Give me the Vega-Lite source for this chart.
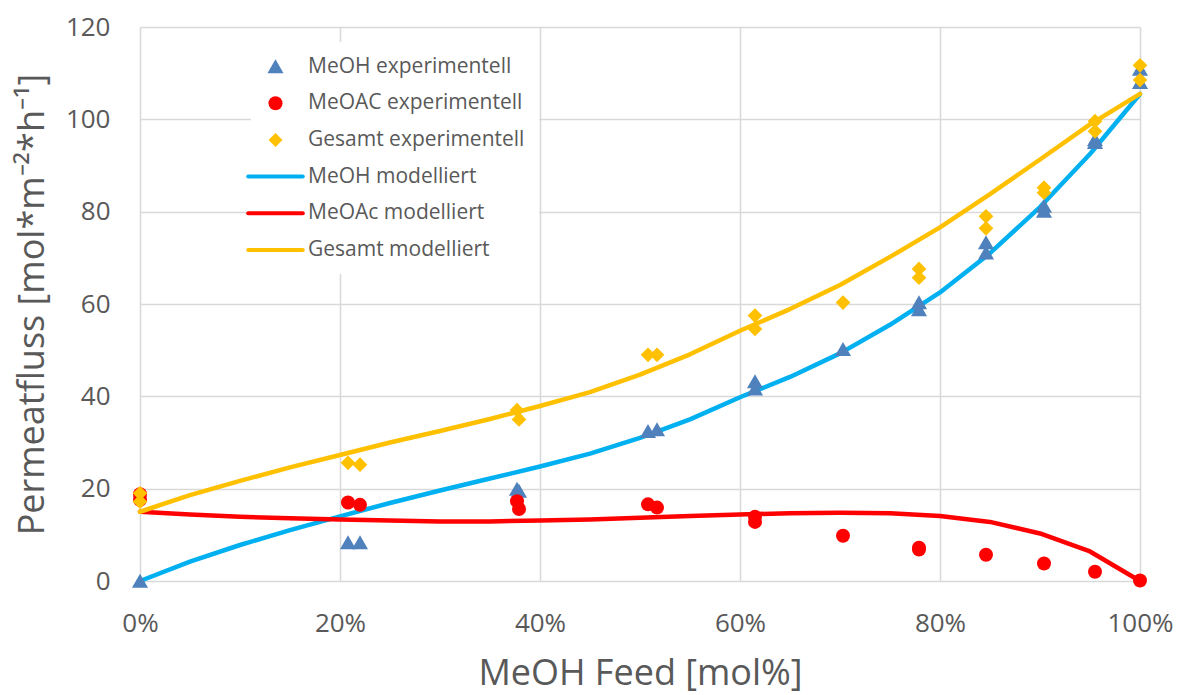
{
  "$schema": "https://vega.github.io/schema/vega-lite/v6.json",
  "width": 1000,
  "height": 554,
  "autosize": "none",
  "padding": {"left": 140, "top": 27, "right": 39, "bottom": 114},
  "background": "white",
  "config": {
    "view": {"stroke": null},
    "font": "Open Sans",
    "axis": {
      "domain": false,
      "ticks": false,
      "grid": true,
      "gridColor": "#d9d9d9",
      "gridWidth": 1.6,
      "labelFont": "Open Sans",
      "labelFontSize": 26,
      "labelColor": "#595959",
      "labelFlush": false,
      "titleFont": "Open Sans",
      "titleFontSize": 36,
      "titleFontWeight": "normal",
      "titleColor": "#595959"
    },
    "legend": {
      "orient": "none",
      "legendX": 111,
      "legendY": 15,
      "fillColor": "white",
      "padding": 14,
      "labelFont": "Open Sans",
      "labelFontSize": 21,
      "labelColor": "#595959",
      "labelLimit": 400,
      "symbolSize": 196,
      "rowPadding": 14.7,
      "labelOffset": 22
    }
  },
  "datasets": {
    "model": [
      {"feed": 0, "flux": 0, "series": "MeOH modelliert"},
      {"feed": 5, "flux": 4.2, "series": "MeOH modelliert"},
      {"feed": 10, "flux": 7.8, "series": "MeOH modelliert"},
      {"feed": 15, "flux": 11.0, "series": "MeOH modelliert"},
      {"feed": 20, "flux": 14.0, "series": "MeOH modelliert"},
      {"feed": 25, "flux": 16.9, "series": "MeOH modelliert"},
      {"feed": 30, "flux": 19.6, "series": "MeOH modelliert"},
      {"feed": 35, "flux": 22.2, "series": "MeOH modelliert"},
      {"feed": 40, "flux": 24.8, "series": "MeOH modelliert"},
      {"feed": 45, "flux": 27.6, "series": "MeOH modelliert"},
      {"feed": 50, "flux": 31.0, "series": "MeOH modelliert"},
      {"feed": 55, "flux": 35.0, "series": "MeOH modelliert"},
      {"feed": 60, "flux": 39.8, "series": "MeOH modelliert"},
      {"feed": 65, "flux": 44.2, "series": "MeOH modelliert"},
      {"feed": 70, "flux": 49.3, "series": "MeOH modelliert"},
      {"feed": 75, "flux": 55.5, "series": "MeOH modelliert"},
      {"feed": 80, "flux": 62.5, "series": "MeOH modelliert"},
      {"feed": 85, "flux": 71.0, "series": "MeOH modelliert"},
      {"feed": 90, "flux": 81.0, "series": "MeOH modelliert"},
      {"feed": 95, "flux": 92.5, "series": "MeOH modelliert"},
      {"feed": 100, "flux": 105.5, "series": "MeOH modelliert"},
      {"feed": 0, "flux": 15.0, "series": "MeOAc modelliert"},
      {"feed": 5, "flux": 14.4, "series": "MeOAc modelliert"},
      {"feed": 10, "flux": 13.9, "series": "MeOAc modelliert"},
      {"feed": 15, "flux": 13.6, "series": "MeOAc modelliert"},
      {"feed": 20, "flux": 13.3, "series": "MeOAc modelliert"},
      {"feed": 25, "flux": 13.1, "series": "MeOAc modelliert"},
      {"feed": 30, "flux": 12.9, "series": "MeOAc modelliert"},
      {"feed": 35, "flux": 12.9, "series": "MeOAc modelliert"},
      {"feed": 40, "flux": 13.1, "series": "MeOAc modelliert"},
      {"feed": 45, "flux": 13.3, "series": "MeOAc modelliert"},
      {"feed": 50, "flux": 13.7, "series": "MeOAc modelliert"},
      {"feed": 55, "flux": 14.1, "series": "MeOAc modelliert"},
      {"feed": 60, "flux": 14.4, "series": "MeOAc modelliert"},
      {"feed": 65, "flux": 14.7, "series": "MeOAc modelliert"},
      {"feed": 70, "flux": 14.8, "series": "MeOAc modelliert"},
      {"feed": 75, "flux": 14.7, "series": "MeOAc modelliert"},
      {"feed": 80, "flux": 14.1, "series": "MeOAc modelliert"},
      {"feed": 85, "flux": 12.8, "series": "MeOAc modelliert"},
      {"feed": 90, "flux": 10.3, "series": "MeOAc modelliert"},
      {"feed": 95, "flux": 6.4, "series": "MeOAc modelliert"},
      {"feed": 100, "flux": 0, "series": "MeOAc modelliert"},
      {"feed": 0, "flux": 15.0, "series": "Gesamt modelliert"},
      {"feed": 5, "flux": 18.6, "series": "Gesamt modelliert"},
      {"feed": 10, "flux": 21.7, "series": "Gesamt modelliert"},
      {"feed": 15, "flux": 24.6, "series": "Gesamt modelliert"},
      {"feed": 20, "flux": 27.3, "series": "Gesamt modelliert"},
      {"feed": 25, "flux": 30.0, "series": "Gesamt modelliert"},
      {"feed": 30, "flux": 32.5, "series": "Gesamt modelliert"},
      {"feed": 35, "flux": 35.1, "series": "Gesamt modelliert"},
      {"feed": 40, "flux": 37.9, "series": "Gesamt modelliert"},
      {"feed": 45, "flux": 40.9, "series": "Gesamt modelliert"},
      {"feed": 50, "flux": 44.7, "series": "Gesamt modelliert"},
      {"feed": 55, "flux": 49.1, "series": "Gesamt modelliert"},
      {"feed": 60, "flux": 54.2, "series": "Gesamt modelliert"},
      {"feed": 65, "flux": 58.9, "series": "Gesamt modelliert"},
      {"feed": 70, "flux": 64.1, "series": "Gesamt modelliert"},
      {"feed": 75, "flux": 70.2, "series": "Gesamt modelliert"},
      {"feed": 80, "flux": 76.6, "series": "Gesamt modelliert"},
      {"feed": 85, "flux": 83.8, "series": "Gesamt modelliert"},
      {"feed": 90, "flux": 91.3, "series": "Gesamt modelliert"},
      {"feed": 95, "flux": 98.9, "series": "Gesamt modelliert"},
      {"feed": 100, "flux": 105.5, "series": "Gesamt modelliert"}
    ],
    "measured": [
      {"feed": 0, "flux": 0, "series": "MeOH experimentell"},
      {"feed": 20.8, "flux": 8.3, "series": "MeOH experimentell"},
      {"feed": 22.0, "flux": 8.3, "series": "MeOH experimentell"},
      {"feed": 37.7, "flux": 19.9, "series": "MeOH experimentell"},
      {"feed": 37.9, "flux": 19.5, "series": "MeOH experimentell"},
      {"feed": 50.8, "flux": 32.4, "series": "MeOH experimentell"},
      {"feed": 51.7, "flux": 32.8, "series": "MeOH experimentell"},
      {"feed": 61.5, "flux": 43.2, "series": "MeOH experimentell"},
      {"feed": 61.5, "flux": 41.6, "series": "MeOH experimentell"},
      {"feed": 70.3, "flux": 50.2, "series": "MeOH experimentell"},
      {"feed": 77.9, "flux": 60.3, "series": "MeOH experimentell"},
      {"feed": 77.9, "flux": 58.8, "series": "MeOH experimentell"},
      {"feed": 84.6, "flux": 73.3, "series": "MeOH experimentell"},
      {"feed": 84.6, "flux": 71.1, "series": "MeOH experimentell"},
      {"feed": 90.4, "flux": 81.2, "series": "MeOH experimentell"},
      {"feed": 90.4, "flux": 80.1, "series": "MeOH experimentell"},
      {"feed": 95.5, "flux": 95.6, "series": "MeOH experimentell"},
      {"feed": 95.5, "flux": 95.0, "series": "MeOH experimentell"},
      {"feed": 100, "flux": 110.9, "series": "MeOH experimentell"},
      {"feed": 100, "flux": 108.0, "series": "MeOH experimentell"},
      {"feed": 0, "flux": 18.8, "series": "MeOAC experimentell"},
      {"feed": 0, "flux": 17.6, "series": "MeOAC experimentell"},
      {"feed": 20.8, "flux": 17.0, "series": "MeOAC experimentell"},
      {"feed": 22.0, "flux": 16.5, "series": "MeOAC experimentell"},
      {"feed": 37.7, "flux": 17.3, "series": "MeOAC experimentell"},
      {"feed": 37.9, "flux": 15.6, "series": "MeOAC experimentell"},
      {"feed": 50.8, "flux": 16.6, "series": "MeOAC experimentell"},
      {"feed": 51.7, "flux": 15.9, "series": "MeOAC experimentell"},
      {"feed": 61.5, "flux": 13.9, "series": "MeOAC experimentell"},
      {"feed": 61.5, "flux": 12.8, "series": "MeOAC experimentell"},
      {"feed": 70.3, "flux": 9.8, "series": "MeOAC experimentell"},
      {"feed": 77.9, "flux": 7.2, "series": "MeOAC experimentell"},
      {"feed": 77.9, "flux": 6.8, "series": "MeOAC experimentell"},
      {"feed": 84.6, "flux": 5.7, "series": "MeOAC experimentell"},
      {"feed": 90.4, "flux": 3.8, "series": "MeOAC experimentell"},
      {"feed": 95.5, "flux": 2.0, "series": "MeOAC experimentell"},
      {"feed": 100, "flux": 0.1, "series": "MeOAC experimentell"},
      {"feed": 0, "flux": 19.0, "series": "Gesamt experimentell"},
      {"feed": 0, "flux": 17.2, "series": "Gesamt experimentell"},
      {"feed": 20.8, "flux": 25.6, "series": "Gesamt experimentell"},
      {"feed": 22.0, "flux": 25.2, "series": "Gesamt experimentell"},
      {"feed": 37.7, "flux": 37.0, "series": "Gesamt experimentell"},
      {"feed": 37.9, "flux": 35.0, "series": "Gesamt experimentell"},
      {"feed": 50.8, "flux": 49.0, "series": "Gesamt experimentell"},
      {"feed": 51.7, "flux": 49.0, "series": "Gesamt experimentell"},
      {"feed": 61.5, "flux": 57.5, "series": "Gesamt experimentell"},
      {"feed": 61.5, "flux": 54.6, "series": "Gesamt experimentell"},
      {"feed": 70.3, "flux": 60.3, "series": "Gesamt experimentell"},
      {"feed": 77.9, "flux": 67.6, "series": "Gesamt experimentell"},
      {"feed": 77.9, "flux": 65.7, "series": "Gesamt experimentell"},
      {"feed": 84.6, "flux": 79.0, "series": "Gesamt experimentell"},
      {"feed": 84.6, "flux": 76.4, "series": "Gesamt experimentell"},
      {"feed": 90.4, "flux": 85.2, "series": "Gesamt experimentell"},
      {"feed": 90.4, "flux": 84.1, "series": "Gesamt experimentell"},
      {"feed": 95.5, "flux": 99.6, "series": "Gesamt experimentell"},
      {"feed": 95.5, "flux": 97.4, "series": "Gesamt experimentell"},
      {"feed": 100, "flux": 111.7, "series": "Gesamt experimentell"},
      {"feed": 100, "flux": 108.5, "series": "Gesamt experimentell"}
    ]
  },
  "encoding": {
    "x": {
      "field": "feed",
      "type": "quantitative",
      "scale": {"domain": [0, 100], "nice": false, "zero": false},
      "axis": {
        "title": "MeOH Feed [mol%]",
        "values": [0, 20, 40, 60, 80, 100],
        "labelExpr": "datum.value + '%'",
        "labelPadding": 29,
        "titlePadding": 20
      }
    },
    "y": {
      "field": "flux",
      "type": "quantitative",
      "scale": {"domain": [0, 120], "nice": false},
      "axis": {
        "title": "Permeatfluss [mol*m⁻²*h⁻¹]",
        "values": [0, 20, 40, 60, 80, 100, 120],
        "labelPadding": 30,
        "titlePadding": 14
      }
    },
    "color": {
      "field": "series",
      "type": "nominal",
      "scale": {
        "domain": [
          "MeOH experimentell",
          "MeOAC experimentell",
          "Gesamt experimentell",
          "MeOH modelliert",
          "MeOAc modelliert",
          "Gesamt modelliert"
        ],
        "range": ["#4f81bd", "#ff0000", "#ffc000", "#00b0f0", "#ff0000", "#ffc000"]
      },
      "legend": {
        "title": null,
        "encode": {
          "symbols": {
            "update": {
              "shape": {"signal": "datum.value == 'MeOH experimentell' ? 'M0,-1.05L-1.15,0.95L1.15,0.95Z' : datum.value == 'MeOAC experimentell' ? 'circle' : datum.value == 'Gesamt experimentell' ? 'M-1.0,0L0,-1.0L1.0,0L0,1.0Z' : 'M-3.9,0L3.9,0'"},
              "fill": {"scale": "color", "field": "value"},
              "fillOpacity": {"signal": "indexof(datum.value, 'modelliert') >= 0 ? 0 : 1"},
              "stroke": {"scale": "color", "field": "value"},
              "strokeOpacity": {"signal": "indexof(datum.value, 'modelliert') >= 0 ? 1 : 0"},
              "strokeWidth": {"value": 4},
              "strokeCap": {"value": "round"},
              "opacity": {"value": 1}
            }
          }
        }
      }
    }
  },
  "layer": [
    {
      "data": {"name": "model"},
      "mark": {"type": "line", "strokeWidth": 4.5, "strokeJoin": "round", "strokeCap": "round"}
    },
    {
      "data": {"name": "measured"},
      "mark": {"type": "point", "filled": true, "opacity": 1, "size": 196, "strokeWidth": 0},
      "encoding": {
        "shape": {
          "field": "series",
          "type": "nominal",
          "scale": {
            "domain": ["MeOH experimentell", "MeOAC experimentell", "Gesamt experimentell"],
            "range": ["M0,-1.05L-1.15,0.95L1.15,0.95Z", "circle", "M-1.05,0L0,-1.05L1.05,0L0,1.05Z"]
          },
          "legend": null
        }
      }
    }
  ]
}
